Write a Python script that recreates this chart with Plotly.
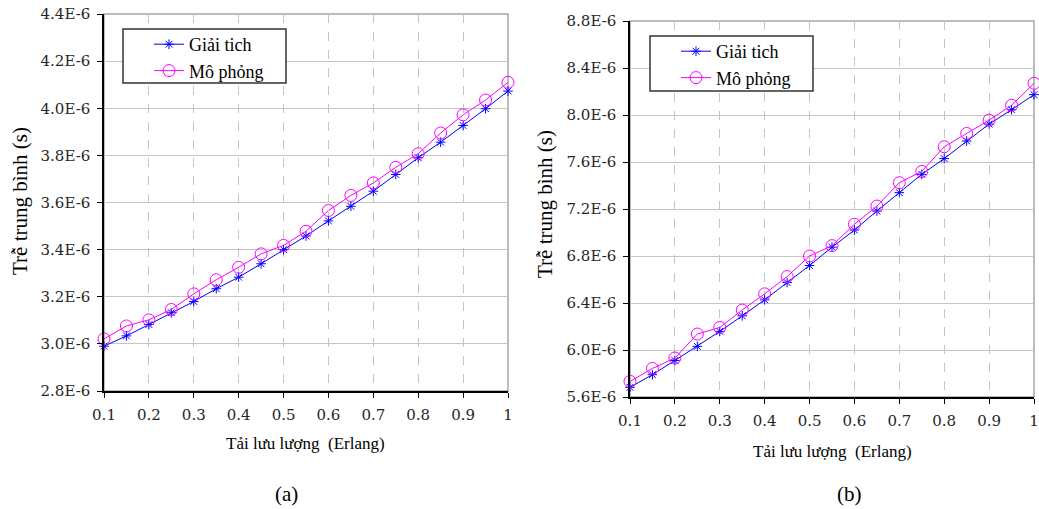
import plotly.graph_objects as go

W, H = 1039, 509

load = [0.1, 0.15, 0.2, 0.25, 0.3, 0.35, 0.4, 0.45, 0.5, 0.55, 0.6, 0.65, 0.7, 0.75, 0.8, 0.85, 0.9, 0.95, 1.0]

# values read in units of 1E-6 s
a_giai_tich = [2.99, 3.034, 3.082, 3.132, 3.18, 3.234, 3.283, 3.34, 3.40, 3.458, 3.522, 3.584, 3.648, 3.719, 3.79, 3.856, 3.927, 3.998, 4.073]
a_mo_phong = [3.021, 3.076, 3.102, 3.146, 3.212, 3.272, 3.325, 3.382, 3.418, 3.478, 3.566, 3.63, 3.683, 3.749, 3.807, 3.895, 3.972, 4.035, 4.11]

b_giai_tich = [5.682, 5.79, 5.911, 6.031, 6.158, 6.291, 6.427, 6.574, 6.719, 6.875, 7.021, 7.183, 7.339, 7.495, 7.629, 7.779, 7.923, 8.045, 8.173]
b_mo_phong = [5.733, 5.843, 5.932, 6.136, 6.192, 6.34, 6.478, 6.625, 6.80, 6.888, 7.07, 7.225, 7.424, 7.52, 7.73, 7.843, 7.956, 8.083, 8.27]

x_tickvals = [0.1, 0.2, 0.3, 0.4, 0.5, 0.6, 0.7, 0.8, 0.9, 1.0]
x_ticktext = ["0.1", "0.2", "0.3", "0.4", "0.5", "0.6", "0.7", "0.8", "0.9", "1"]

a_ytickvals = [2.8, 3.0, 3.2, 3.4, 3.6, 3.8, 4.0, 4.2, 4.4]
a_yticktext = ["2.8E-6", "3.0E-6", "3.2E-6", "3.4E-6", "3.6E-6", "3.8E-6", "4.0E-6", "4.2E-6", "4.4E-6"]
b_ytickvals = [5.6, 6.0, 6.4, 6.8, 7.2, 7.6, 8.0, 8.4, 8.8]
b_yticktext = ["5.6E-6", "6.0E-6", "6.4E-6", "6.8E-6", "7.2E-6", "7.6E-6", "8.0E-6", "8.4E-6", "8.8E-6"]

series_names = ["Giải tich", "Mô phỏng"]
x_title = "Tải lưu lượng  (Erlang)"
y_title = "Trễ trung bình (s)"
panel_labels = ["(a)", "(b)"]

E = 1e-6
BLUE = "#0000ff"
MAG = "#ff00ff"
SERIF = "Liberation Serif"
TICKFONT = dict(family="DejaVu Serif", size=15, color="#262626")


def px(x):
    return x / W


def py(y):
    return 1 - y / H


fig = go.Figure()


def add_pair(gt, mp, xa, ya, leg):
    fig.add_trace(go.Scatter(
        x=load, y=[v * E for v in gt], xaxis=xa, yaxis=ya, name=series_names[0],
        mode="lines+markers", line=dict(color=BLUE, width=1), cliponaxis=False,
        marker=dict(symbol="asterisk-open", size=8, color=BLUE, line=dict(color=BLUE, width=1)),
        legend=leg, legendgroup=leg + "g1"))
    fig.add_trace(go.Scatter(
        x=load, y=[v * E for v in mp], xaxis=xa, yaxis=ya, name=series_names[1],
        mode="lines+markers", line=dict(color=MAG, width=1), cliponaxis=False,
        marker=dict(symbol="circle-open", size=12, color=MAG, line=dict(color=MAG, width=1)),
        legend=leg, legendgroup=leg + "g2"))


add_pair(a_giai_tich, a_mo_phong, "x", "y", "legend")
add_pair(b_giai_tich, b_mo_phong, "x2", "y2", "legend2")


def xaxis(domain, anchor):
    return dict(domain=domain, anchor=anchor, range=[0.1, 1.0], automargin=False,
                tickvals=x_tickvals, ticktext=x_ticktext, tickfont=TICKFONT,
                ticklabelstandoff=4,
                showgrid=True, gridcolor="#c4c4c4", griddash="dash", gridwidth=1,
                showline=True, linecolor="black", linewidth=1.5,
                ticks="outside", ticklen=5, tickcolor="black", zeroline=False)


def yaxis(domain, anchor, rng, tv, tt):
    return dict(domain=domain, anchor=anchor, range=rng, automargin=False,
                tickvals=[v * E for v in tv], ticktext=tt, tickfont=TICKFONT,
                ticklabelstandoff=4,
                showgrid=True, gridcolor="#c4c4c4", gridwidth=1,
                showline=True, linecolor="black", linewidth=1.5,
                ticks="outside", ticklen=5, tickcolor="black", zeroline=False)


fig.update_layout(
    template="none",
    width=W, height=H, margin=dict(l=0, r=0, t=0, b=0, pad=0),
    paper_bgcolor="white", plot_bgcolor="white",
    xaxis=xaxis([px(104), px(508)], "y"),
    yaxis=yaxis([py(391), py(14)], "x", [2.8 * E, 4.4 * E], a_ytickvals, a_yticktext),
    xaxis2=xaxis([px(630), px(1034)], "y2"),
    yaxis2=yaxis([py(397), py(21)], "x2", [5.6 * E, 8.8 * E], b_ytickvals, b_yticktext),
    legend=dict(x=px(149), y=py(26), xanchor="left", yanchor="top",
                bgcolor="rgba(0,0,0,0)", borderwidth=0, tracegroupgap=0,
                font=dict(family=SERIF, size=18, color="black")),
    legend2=dict(x=px(676), y=py(33), xanchor="left", yanchor="top",
                 bgcolor="rgba(0,0,0,0)", borderwidth=0, tracegroupgap=0,
                 font=dict(family=SERIF, size=18, color="black")),
    showlegend=True,
)

for xr, yr in (("x", "y"), ("x2", "y2")):
    fig.add_shape(type="rect", xref=f"{xr} domain", yref=f"{yr} domain",
                  x0=0, x1=1, y0=0, y1=1, line=dict(color="#a6a6a6", width=1.5), layer="below")

for (x0, y0, x1, y1) in ((123, 29, 286, 83), (650, 36, 813, 91)):
    fig.add_shape(type="rect", xref="paper", yref="paper",
                  x0=px(x0), x1=px(x1), y0=py(y1), y1=py(y0),
                  line=dict(color="#333", width=1.5), fillcolor="white", layer="above")

annos = [
    dict(text=y_title, x=20, y=201, textangle=-90, size=21),
    dict(text=y_title, x=545, y=204, textangle=-90, size=21),
    dict(text=x_title, x=305, y=443, textangle=0, size=17),
    dict(text=x_title, x=832, y=451, textangle=0, size=17),
    dict(text=panel_labels[0], x=286, y=494, textangle=0, size=21),
    dict(text=panel_labels[1], x=849, y=494, textangle=0, size=21),
]
for a in annos:
    fig.add_annotation(text=a["text"], x=px(a["x"]), y=py(a["y"]), xref="paper", yref="paper",
                       xanchor="center", yanchor="middle", textangle=a["textangle"],
                       showarrow=False, font=dict(family=SERIF, size=a["size"], color="black"))

fig.write_html("out.html", config={"displayModeBar": False},
               post_script="document.body.style.margin='0';document.body.style.overflow='hidden';")
